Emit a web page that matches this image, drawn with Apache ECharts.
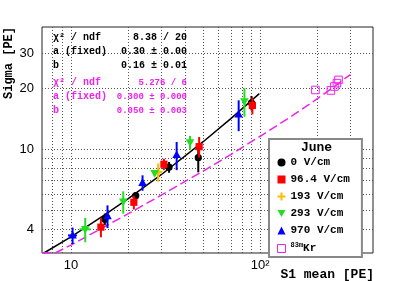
<!DOCTYPE html>
<html>
<head>
<meta charset="utf-8">
<script src="https://cdn.jsdelivr.net/npm/echarts@6/dist/echarts.min.js"></script>
<style>
html,body{margin:0;padding:0;background:#fff;}
#chart{width:415px;height:281px;}
</style>
</head>
<body>
<div id="chart"></div>
<script>
// ---- data ----
const xGridVals = [8, 9, 10, 20, 30, 40, 50, 60, 70, 80, 90, 100, 200, 300];
const yGridVals = [4, 5, 6, 7, 8, 9, 10, 20, 30];
const xLabelVals = [10, 100];
const xLabelText = ['10', '10²'];
const yLabelVals = [4, 10, 20, 30];

const seriesNames = ['0 V/cm', '96.4 V/cm', '193 V/cm', '293 V/cm', '970 V/cm', 'Kr'];

const x0 = [15.1, 22.0, 33.0, 47.1, 90];
const y0 = [4.49, 5.88, 8.14, 9.08, 17.0];
const ex0 = [0, 0, 0, 0, 0];
const ey0 = [0.3, 0.25, 0.5, 1.4, 1.4];

const x1 = [14.4, 21.5, 31.0, 47.6, 91];
const y1 = [4.1, 5.45, 8.42, 10.3, 16.5];
const ex1 = [0, 0, 0, 0, 0];
const ey1 = [0.45, 0.43, 0.55, 1.2, 1.6];

const x2 = [28.9];
const y2 = [7.7];
const ex2 = [0];
const ey2 = [0.8];

const x3 = [11.9, 18.9, 27.7, 42.6, 82.6];
const y3 = [4.0, 5.48, 7.6, 10.8, 17.3];
const ex3 = [0.8, 0.4, 0, 0, 0];
const ey3 = [0.55, 0.7, 0.25, 0.85, 2.8];

const x4 = [10.2, 15.6, 23.9, 36.2, 77.0];
const y4 = [3.73, 4.66, 6.82, 9.37, 14.9];
const ex4 = [0.55, 0.4, 0, 0, 0];
const ey4 = [0.35, 0.6, 0.6, 1.5, 2.6];

const xKr = [196, 236.6, 247, 254.5, 259.6];
const yKr = [19.7, 19.6, 20.5, 21.3, 22.1];

const fitBlackX = [7.2, 10, 15, 20, 30, 50, 70, 99];
const fitBlackY = [3.05, 3.67, 4.70, 5.66, 7.47, 10.9, 14.2, 18.9];
const fitMagX = [7.03, 8.3, 10, 15, 20, 30, 50, 70, 100, 150, 200, 250, 300];
const fitMagY = [3.06, 3.06, 3.34, 4.11, 4.77, 5.91, 7.79, 9.41, 11.6, 14.8, 17.8, 20.7, 23.5];

const statLabels = ['χ² / ndf', 'a (fixed)', 'b'];
const statValuesBlack = ['8.38 / 20', '0.30 ± 0.00', '0.16 ± 0.01'];
const statValuesMag = ['5.276 / 6', '0.300 ± 0.000', '0.050 ± 0.003'];

// ---- styling ----
const MAG = '#ee22ee';
const colors = ['#000000', '#ff0000', '#ffbb00', '#22dd22', '#0000ff', MAG];
const MONO = '"Liberation Mono", "DejaVu Sans Mono", monospace';
const SANS = '"Liberation Sans", Arial, sans-serif';

function zip(xs, ys, exs, eys) {
  return xs.map((x, i) => [x, ys[i], exs ? exs[i] : 0, eys ? eys[i] : 0]);
}

function markerShape(kind, cx, cy, color) {
  const s = 3.6;
  if (kind === 'circle') return {type: 'circle', shape: {cx, cy, r: s}, style: {fill: color}};
  if (kind === 'square') return {type: 'rect', shape: {x: cx - s, y: cy - s, width: 2 * s, height: 2 * s}, style: {fill: color}};
  if (kind === 'open') return {type: 'rect', shape: {x: cx - 3.8, y: cy - 3.8, width: 7.6, height: 7.6}, style: {fill: 'none', stroke: color, lineWidth: 1}};
  if (kind === 'up') return {type: 'polygon', shape: {points: [[cx, cy - 4.5], [cx + 4.3, cy + 3.2], [cx - 4.3, cy + 3.2]]}, style: {fill: color}};
  if (kind === 'down') return {type: 'polygon', shape: {points: [[cx, cy + 4.5], [cx + 4.3, cy - 3.2], [cx - 4.3, cy - 3.2]]}, style: {fill: color}};
  if (kind === 'plus') {
    const a = 1.3, b = 4.2;
    return {type: 'polygon', shape: {points: [[cx - a, cy - b], [cx + a, cy - b], [cx + a, cy - a], [cx + b, cy - a], [cx + b, cy + a], [cx + a, cy + a], [cx + a, cy + b], [cx - a, cy + b], [cx - a, cy + a], [cx - b, cy + a], [cx - b, cy - a], [cx - a, cy - a]]}, style: {fill: color}};
  }
}

function makeRender(kind, color) {
  return function (params, api) {
    const x = api.value(0), y = api.value(1), ex = api.value(2), ey = api.value(3);
    const c = api.coord([x, y]);
    const children = [];
    if (ey > 0) {
      const lo = api.coord([x, y - ey]), hi = api.coord([x, y + ey]);
      children.push({type: 'line', shape: {x1: c[0], y1: lo[1], x2: c[0], y2: hi[1]}, style: {stroke: color, lineWidth: 2}});
    }
    if (ex > 0) {
      const l = api.coord([x - ex, y]), r = api.coord([x + ex, y]);
      children.push({type: 'line', shape: {x1: l[0], y1: c[1], x2: r[0], y2: c[1]}, style: {stroke: color, lineWidth: 2}});
    }
    children.push(markerShape(kind, c[0], c[1], color));
    return {type: 'group', children};
  };
}

function pointSeries(name, data, kind, color) {
  return {
    type: 'custom', name, data, clip: true, z: 5,
    itemStyle: {color},
    renderItem: makeRender(kind, color),
    encode: {x: 0, y: 1}
  };
}

const gridLineStyle = {type: [1, 2], color: '#555', width: 1};
const markLineData = [];
yGridVals.forEach(v => {
  const idx = yLabelVals.indexOf(v);
  markLineData.push({
    yAxis: v,
    lineStyle: gridLineStyle,
    label: {show: idx >= 0, position: 'start', distance: 8, formatter: String(v),
            color: '#000', fontFamily: SANS, fontSize: 13}
  });
});
xGridVals.forEach(v => {
  const idx = xLabelVals.indexOf(v);
  markLineData.push({
    xAxis: v,
    lineStyle: gridLineStyle,
    label: {show: idx >= 0, position: 'start', distance: 6, formatter: idx >= 0 ? xLabelText[idx] : '',
            color: '#000', fontFamily: SANS, fontSize: 13}
  });
});

const graphics = [
  {type: 'text', x: 3, y: 27, rotation: Math.PI / 2, z: 100,
   style: {text: 'Sigma [PE]', font: 'bold 12px ' + MONO, fill: '#000', textAlign: 'right', align: 'right', textVerticalAlign: 'top', verticalAlign: 'top'}},
  {type: 'text', x: 374, y: 275, z: 100,
   style: {text: 'S1 mean [PE]', font: 'bold 13px ' + MONO, fill: '#000', textAlign: 'right', align: 'right', textVerticalAlign: 'middle', verticalAlign: 'middle'}},
  {type: 'text', x: 316.5, y: 148, z: 100,
   style: {text: 'June', font: 'bold 13px ' + MONO, fill: '#000', textAlign: 'center', align: 'center', textVerticalAlign: 'middle', verticalAlign: 'middle'}}
];
const rowYBlack = [37.5, 51.5, 65.5];
const rowYMag = [82.5, 96.5, 110.5];
statLabels.forEach((t, i) => {
  graphics.push({type: 'text', x: 53, y: rowYBlack[i], z: 100,
    style: {text: t, font: 'bold 10px ' + MONO, fill: '#000', textAlign: 'left', align: 'left', textVerticalAlign: 'middle', verticalAlign: 'middle'}});
  graphics.push({type: 'text', x: 187, y: rowYBlack[i], z: 100,
    style: {text: statValuesBlack[i], font: 'bold 10px ' + MONO, fill: '#000', textAlign: 'right', align: 'right', textVerticalAlign: 'middle', verticalAlign: 'middle'}});
  graphics.push({type: 'text', x: 53, y: rowYMag[i], z: 100,
    style: {text: t, font: 'bold 10px ' + MONO, fill: MAG, textAlign: 'left', align: 'left', textVerticalAlign: 'middle', verticalAlign: 'middle'}});
  graphics.push({type: 'text', x: 187, y: rowYMag[i], z: 100,
    style: {text: statValuesMag[i], font: 'bold 9px ' + MONO, fill: MAG, textAlign: 'right', align: 'right', textVerticalAlign: 'middle', verticalAlign: 'middle'}});
});

const chart = echarts.init(document.getElementById('chart'), null, {renderer: 'canvas'});
chart.setOption({
  animation: false,
  backgroundColor: '#fff',
  grid: {left: 42, top: 27, width: 331, height: 226, show: true, borderColor: '#222', borderWidth: 1,
         backgroundColor: 'transparent', containLabel: false, outerBoundsMode: 'none'},
  xAxis: {type: 'log', logBase: 10, min: 7.03, max: 395,
          axisLine: {show: false}, axisTick: {show: false}, axisLabel: {show: false}, splitLine: {show: false}, minorSplitLine: {show: false}},
  yAxis: {type: 'log', logBase: 10, min: 3.05, max: 40.5,
          axisLine: {show: false}, axisTick: {show: false}, axisLabel: {show: false}, splitLine: {show: false}, minorSplitLine: {show: false}},
  legend: {
    show: true, orient: 'vertical', left: 269, top: 139,
    padding: [18, 12, 3, 8], itemWidth: 8, itemHeight: 8, itemGap: 6,
    borderColor: '#888', borderWidth: 2, backgroundColor: '#fff',
    selectedMode: false,
    textStyle: {fontFamily: MONO, fontWeight: 'bold', fontSize: 11, color: '#000',
                rich: {sup: {fontFamily: MONO, fontWeight: 'bold', fontSize: 7, padding: [0, 0, 6, 0], color: '#000'},
                       kr: {fontFamily: MONO, fontWeight: 'bold', fontSize: 11, color: '#000'}}},
    formatter: function (name) { return name === 'Kr' ? '{sup|83m}{kr|Kr}' : name; },
    data: [
      {name: seriesNames[0], icon: 'circle'},
      {name: seriesNames[1], icon: 'rect'},
      {name: seriesNames[2], icon: 'path://M3,0L5,0L5,3L8,3L8,5L5,5L5,8L3,8L3,5L0,5L0,3L3,3Z'},
      {name: seriesNames[3], icon: 'path://M0,0L8,0L4,7Z'},
      {name: seriesNames[4], icon: 'triangle'},
      {name: seriesNames[5], icon: 'rect', itemStyle: {color: 'transparent', borderColor: MAG, borderWidth: 1}}
    ]
  },
  graphic: graphics,
  series: [
    {type: 'line', name: 'grid', data: [], silent: true, z: 1,
     markLine: {silent: true, symbol: ['none', 'none'], z: 1, animation: false, data: markLineData}},
    {type: 'line', name: 'fitBlack', data: zip(fitBlackX, fitBlackY).map(p => [p[0], p[1]]), showSymbol: false, z: 3, clip: true,
     lineStyle: {color: '#000', width: 1.5}, silent: true},
    {type: 'line', name: 'fitKr', data: zip(fitMagX, fitMagY).map(p => [p[0], p[1]]), showSymbol: false, z: 3, clip: true,
     lineStyle: {color: MAG, width: 1.5, type: [9, 4]}, silent: true},
    pointSeries(seriesNames[0], zip(x0, y0, ex0, ey0), 'circle', colors[0]),
    pointSeries(seriesNames[1], zip(x1, y1, ex1, ey1), 'square', colors[1]),
    pointSeries(seriesNames[2], zip(x2, y2, ex2, ey2), 'plus', colors[2]),
    pointSeries(seriesNames[3], zip(x3, y3, ex3, ey3), 'down', colors[3]),
    pointSeries(seriesNames[4], zip(x4, y4, ex4, ey4), 'up', colors[4]),
    pointSeries(seriesNames[5], zip(xKr, yKr), 'open', colors[5])
  ]
});
</script>
</body>
</html>
